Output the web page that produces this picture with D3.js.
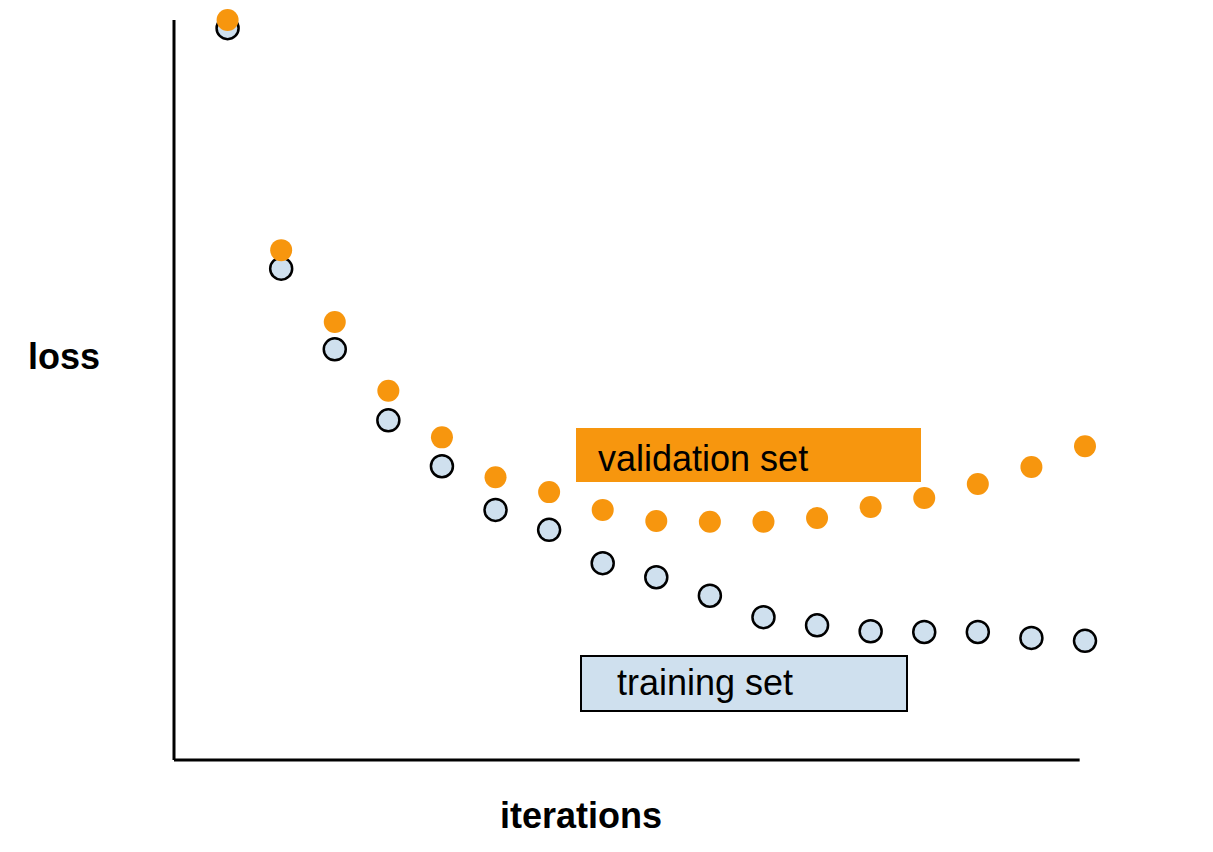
<!DOCTYPE html>
<html><head><meta charset="utf-8">
<script src="https://cdn.jsdelivr.net/npm/d3@7"></script>
<style>body{margin:0;background:#fff}text{font-family:"Liberation Sans",Arial,sans-serif}</style>
</head><body>
<svg id="svg" width="1213" height="852"></svg>
<script>
// --- Data ------------------------------------------------------------------
const iterations = d3.range(1, 18);
const trainingLoss = [98.9, 66.4, 55.5, 45.9, 39.7, 33.8, 31.1, 26.6, 24.7, 22.2, 19.3, 18.2, 17.4, 17.3, 17.3, 16.5, 16.1];
const validationLoss = [100, 68.9, 59.2, 49.9, 43.6, 38.2, 36.2, 33.8, 32.3, 32.2, 32.2, 32.7, 34.2, 35.4, 37.3, 39.6, 42.4];

const svg = d3.select("#svg");
const x = d3.scaleLinear().domain([0, 17]).range([174, 1085]);
const y = d3.scaleLinear().domain([0, 100]).range([760, 20]);

// axes (plain lines, no ticks)
svg.append("line").attr("x1", x(0)).attr("x2", x(0)).attr("y1", y(100)).attr("y2", y(0))
  .attr("stroke", "#000").attr("stroke-width", 3);
svg.append("line").attr("x1", x(0)).attr("x2", x(16.9)).attr("y1", y(0)).attr("y2", y(0))
  .attr("stroke", "#000").attr("stroke-width", 3);

svg.append("text").attr("x", 28).attr("y", 369).attr("font-size", 36).attr("font-weight", "bold").text("loss");
svg.append("text").attr("x", 581).attr("y", 828).attr("text-anchor", "middle")
  .attr("font-size", 36).attr("font-weight", "bold").text("iterations");

// training points
svg.append("g").selectAll("circle").data(iterations).enter().append("circle")
  .attr("cx", d => x(d)).attr("cy", (d, i) => y(trainingLoss[i])).attr("r", 11)
  .attr("fill", "#cfe0ee").attr("stroke", "#000").attr("stroke-width", 2.5);

// validation points
svg.append("g").selectAll("circle").data(iterations).enter().append("circle")
  .attr("cx", d => x(d)).attr("cy", (d, i) => y(validationLoss[i])).attr("r", 11)
  .attr("fill", "#f7960e");

// labels
svg.append("rect").attr("x", 576).attr("y", 428).attr("width", 345).attr("height", 54).attr("fill", "#f7960e");
svg.append("text").attr("x", 598).attr("y", 471).attr("font-size", 36).text("validation set");
svg.append("rect").attr("x", 581).attr("y", 656).attr("width", 326).attr("height", 55)
  .attr("fill", "#cfe0ee").attr("stroke", "#000").attr("stroke-width", 2);
svg.append("text").attr("x", 617).attr("y", 695).attr("font-size", 36).text("training set");
</script>
</body></html>
